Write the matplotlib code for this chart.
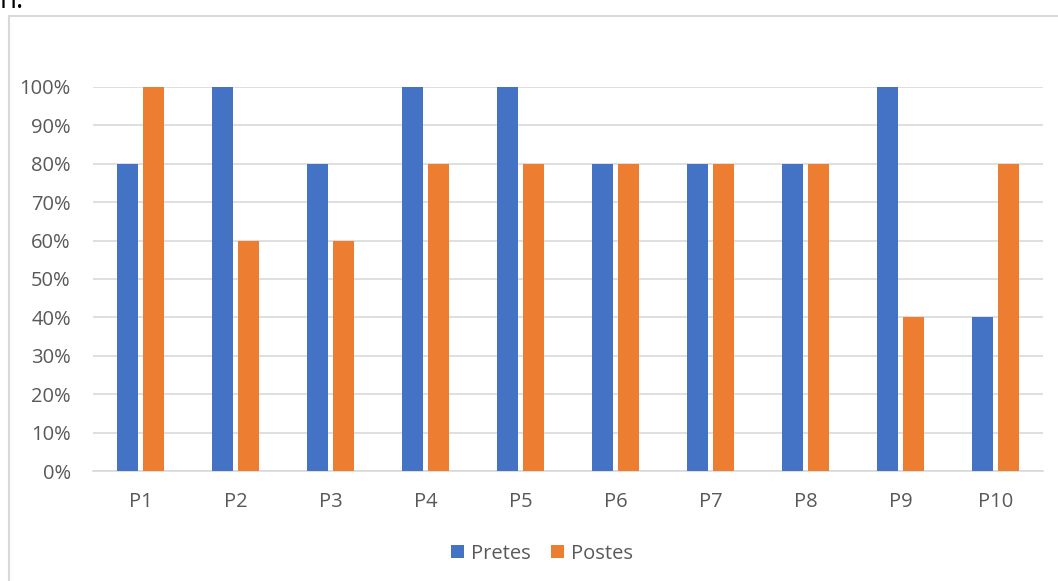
import numpy as np
import matplotlib.pyplot as plt
from matplotlib.lines import Line2D
from matplotlib.ticker import PercentFormatter

plt.rcParams['font.family'] = ['Open Sans', 'DejaVu Sans']

# Datos
categorias = ["P1", "P2", "P3", "P4", "P5", "P6", "P7", "P8", "P9", "P10"]
pretes = [0.80, 1.00, 0.80, 1.00, 1.00, 0.80, 0.80, 0.80, 1.00, 0.40]
postes = [1.00, 0.60, 0.60, 0.80, 0.80, 0.80, 0.80, 0.80, 0.40, 0.80]

azul = "#4472C4"
naranja = "#ED7D31"
gris = "#D9D9D9"
texto = "#595959"

fig = plt.figure(figsize=(10.58, 5.81), dpi=100)
ax = fig.add_axes([0.0879, 0.1893, 0.8979, 0.661])

x = np.arange(len(categorias))
w = 0.22
ax.bar(x - 0.14, pretes, w, color=azul, label="Pretes", zorder=3)
ax.bar(x + 0.14, postes, w, color=naranja, label="Postes", zorder=3)

ax.set_xlim(-0.5, len(categorias) - 0.5)
ax.set_ylim(0, 1)
ax.set_yticks(np.arange(0, 1.01, 0.1))
ax.yaxis.set_major_formatter(PercentFormatter(1.0, decimals=0))
ax.set_xticks(x)
ax.set_xticklabels(categorias)
ax.grid(axis='y', color=gris, linewidth=1.2, zorder=0)
for s in ["top", "right", "left"]:
    ax.spines[s].set_visible(False)
ax.spines["bottom"].set_color(gris)
ax.spines["bottom"].set_linewidth(1.2)
ax.tick_params(axis='both', length=0, labelsize=14.5, labelcolor=texto)
ax.tick_params(axis='x', pad=15)
ax.tick_params(axis='y', pad=16)

ax.legend(loc="center", bbox_to_anchor=(0.4726, -0.215), ncol=2, frameon=False,
          fontsize=14.5, labelcolor=texto, handlelength=0.65, handleheight=0.65,
          handletextpad=0.35, columnspacing=1.0)

# borde del gráfico
fig.add_artist(Line2D([9/1058, 9/1058], [0, 1 - 16/581], color=gris, lw=1.5))
fig.add_artist(Line2D([9/1058, 1], [1 - 16/581, 1 - 16/581], color=gris, lw=1.5))

# texto recortado arriba
fig.text(0.0, 1 - 8/581, "n.", fontsize=20, color="black", va="baseline", ha="left")

fig.savefig("out.png", dpi=100)
